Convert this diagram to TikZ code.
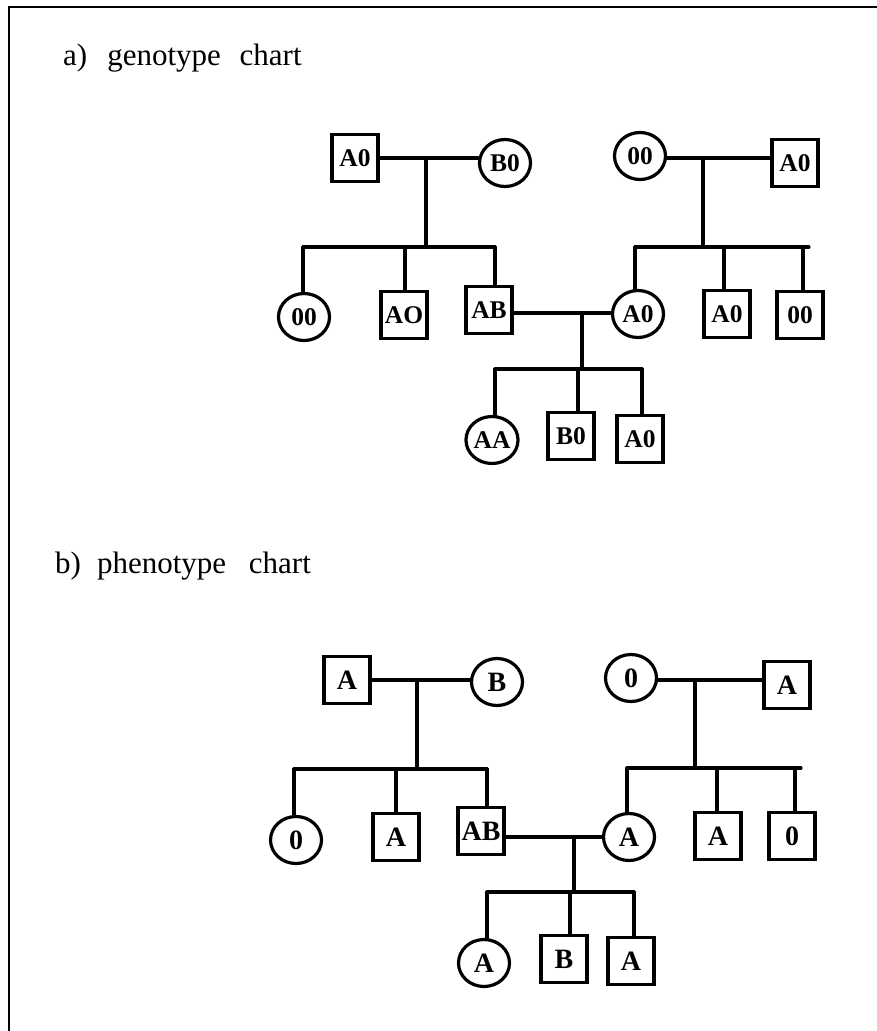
\documentclass[tikz,border=0pt]{standalone}
\usepackage{fontspec}
\setmainfont{Liberation Serif}
\usetikzlibrary{shapes.geometric,calc}

\tikzset{
  ln/.style={line width=3.1pt, line cap=round},
  person/.style={draw, line width=3.2pt, inner sep=0pt},
  male/.style={person, rectangle, minimum width=46pt, minimum height=47pt},
  female/.style={person, ellipse, minimum width=51pt, minimum height=47pt},
  geno/.style={font=\bfseries\fontsize{25.5}{25.5}\selectfont},
  pheno/.style={font=\bfseries\fontsize{28}{28}\selectfont},
  heading/.style={anchor=base west, inner sep=0pt, font=\fontsize{31}{31}\selectfont},
  frame/.style={line width=1.6pt}
}

\begin{document}
\begin{tikzpicture}[x=1pt, y=-1pt]
\useasboundingbox (0,0) rectangle (877,1031);

% open frame: top and left edges
\coordinate (fl) at (9,1031);
\coordinate (fc) at (9,7);
\coordinate (fr) at (877,7);
\draw[frame] (fl) -- (fc) -- (fr);

% headings
\node[heading] (ta) at (63,65) {a)\hspace{20pt}genotype\hspace{11pt} chart};
\node[heading] (tb) at (55,573) {b)\hspace{16pt}phenotype\hspace{15pt} chart};

% ---------------- genotype chart ----------------
\node[male,geno]   (gF1) at (355,158) {A0};
\node[female,geno] (gM1) at (505,163) {B0};
\node[female,geno] (gM2) at (640,156) {00};
\node[male,geno]   (gF2) at (795,163) {A0};

\node[female,geno] (gC1) at (304,317) {00};
\node[male,geno]   (gC2) at (404,315) {AO};
\node[male,geno]   (gC3) at (489,310) {AB};
\node[female,geno] (gC4) at (638,314) {A0};
\node[male,geno]   (gC5) at (727,314) {A0};
\node[male,geno]   (gC6) at (800,315) {00};

\node[female,geno] (gG1) at (492,440) {AA};
\node[male,geno]   (gG2) at (571,436) {B0};
\node[male,geno]   (gG3) at (640,439) {A0};

% left family
\coordinate (gm1) at (426,158);
\coordinate (gs1) at (426,247);
\coordinate (gs1a) at (303,247);
\coordinate (gs1b) at (405,247);
\coordinate (gs1c) at (495,247);
\draw[ln] (gF1.east |- gm1) -- (gM1.west |- gm1);
\draw[ln] (gm1) -- (gs1);
\draw[ln] (gs1a) -- (gs1c);
\draw[ln] (gs1a) -- (gs1a |- gC1.north);
\draw[ln] (gs1b) -- (gs1b |- gC2.north);
\draw[ln] (gs1c) -- (gs1c |- gC3.north);

% right family
\coordinate (gm2) at (703,158);
\coordinate (gs2) at (703,247);
\coordinate (gs2a) at (635,247);
\coordinate (gs2b) at (724,247);
\coordinate (gs2c) at (803,247);
\coordinate (gs2d) at (809,247);
\draw[ln] (gM2.east |- gm2) -- (gF2.west |- gm2);
\draw[ln] (gm2) -- (gs2);
\draw[ln] (gs2a) -- (gs2d);
\draw[ln] (gs2a) -- (gs2a |- gC4.north);
\draw[ln] (gs2b) -- (gs2b |- gC5.north);
\draw[ln] (gs2c) -- (gs2c |- gC6.north);

% third generation
\coordinate (gm3) at (582,313);
\coordinate (gs3) at (582,369);
\coordinate (gs3a) at (495,369);
\coordinate (gs3b) at (578,369);
\coordinate (gs3c) at (642,369);
\draw[ln] (gC3.east |- gm3) -- (gC4.west |- gm3);
\draw[ln] (gm3) -- (gs3);
\draw[ln] (gs3a) -- (gs3c);
\draw[ln] (gs3a) -- (gs3a |- gG1.north);
\draw[ln] (gs3b) -- (gs3b |- gG2.north);
\draw[ln] (gs3c) -- (gs3c |- gG3.north);

% ---------------- phenotype chart ----------------
\node[male,pheno]   (pF1) at (347,680) {A};
\node[female,pheno] (pM1) at (497,682) {B};
\node[female,pheno] (pM2) at (631,678) {0};
\node[male,pheno]   (pF2) at (787,685) {A};

\node[female,pheno] (pC1) at (296,840) {0};
\node[male,pheno]   (pC2) at (396,837) {A};
\node[male,pheno]   (pC3) at (481,831) {AB};
\node[female,pheno] (pC4) at (629,837) {A};
\node[male,pheno]   (pC5) at (718,836) {A};
\node[male,pheno]   (pC6) at (792,836) {0};

\node[female,pheno] (pG1) at (484,963) {A};
\node[male,pheno]   (pG2) at (564,959) {B};
\node[male,pheno]   (pG3) at (631,961) {A};

% left family
\coordinate (pm1) at (417,680);
\coordinate (ps1) at (417,769);
\coordinate (ps1a) at (294,769);
\coordinate (ps1b) at (396,769);
\coordinate (ps1c) at (487,769);
\draw[ln] (pF1.east |- pm1) -- (pM1.west |- pm1);
\draw[ln] (pm1) -- (ps1);
\draw[ln] (ps1a) -- (ps1c);
\draw[ln] (ps1a) -- (ps1a |- pC1.north);
\draw[ln] (ps1b) -- (ps1b |- pC2.north);
\draw[ln] (ps1c) -- (ps1c |- pC3.north);

% right family
\coordinate (pm2) at (695,680);
\coordinate (ps2) at (695,768);
\coordinate (ps2a) at (627,768);
\coordinate (ps2b) at (717,768);
\coordinate (ps2c) at (795,768);
\coordinate (ps2d) at (801,768);
\draw[ln] (pM2.east |- pm2) -- (pF2.west |- pm2);
\draw[ln] (pm2) -- (ps2);
\draw[ln] (ps2a) -- (ps2d);
\draw[ln] (ps2a) -- (ps2a |- pC4.north);
\draw[ln] (ps2b) -- (ps2b |- pC5.north);
\draw[ln] (ps2c) -- (ps2c |- pC6.north);

% third generation
\coordinate (pm3) at (574,837);
\coordinate (ps3) at (574,892);
\coordinate (ps3a) at (487,892);
\coordinate (ps3b) at (570,892);
\coordinate (ps3c) at (634,892);
\draw[ln] (pC3.east |- pm3) -- (pC4.west |- pm3);
\draw[ln] (pm3) -- (ps3);
\draw[ln] (ps3a) -- (ps3c);
\draw[ln] (ps3a) -- (ps3a |- pG1.north);
\draw[ln] (ps3b) -- (ps3b |- pG2.north);
\draw[ln] (ps3c) -- (ps3c |- pG3.north);
\end{tikzpicture}
\end{document}
